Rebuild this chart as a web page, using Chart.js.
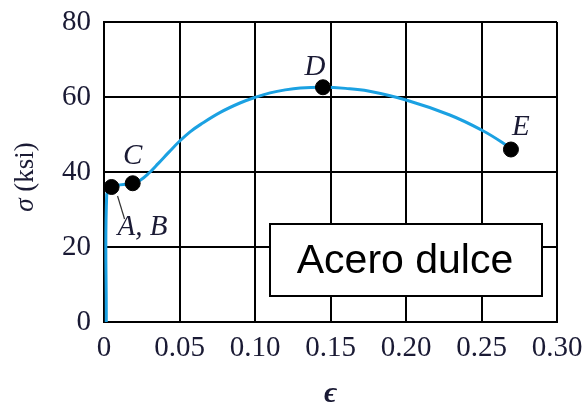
<!DOCTYPE html>
<html>
<head>
<meta charset="utf-8">
<script src="https://cdn.jsdelivr.net/npm/chart.js@4"></script>
<style>
  html, body { margin: 0; padding: 0; background: #fff; }
  #wrap { width: 588px; height: 403px; }
</style>
</head>
<body>
<div id="wrap"><canvas id="chart"></canvas></div>
<script>
// stress-strain curve of mild steel
const strainValues = [0.0015, 0.0018, 0.005, 0.019, 0.024, 0.030, 0.036, 0.043, 0.050, 0.057, 0.064, 0.077, 0.090, 0.100, 0.110, 0.120, 0.130, 0.145, 0.160, 0.175, 0.200, 0.229, 0.250, 0.264, 0.2695];
const stressValues = [0, 34, 36, 37, 37.8, 39.8, 42.3, 45.3, 48.2, 50.7, 52.7, 55.9, 58.4, 59.9, 61.1, 61.9, 62.4, 62.6, 62.3, 61.6, 59.2, 55.2, 51.2, 47.8, 46];

// marked points
const pointNames = ["A, B", "C", "D", "E"];
const pointStrain = [0.005, 0.019, 0.145, 0.2695];
const pointStress = [36, 37, 62.6, 46];

const xTicks = [0, 0.05, 0.10, 0.15, 0.20, 0.25, 0.30];
const yTicks = [0, 20, 40, 60, 80];
const boxText = "Acero dulce";

const inkColor = "#1a1a34";
const curveColor = "#1ba1e2";

const curveData = strainValues.map((x, i) => ({ x: x, y: stressValues[i] }));
const pointData = pointStrain.map((x, i) => ({ x: x, y: pointStress[i] }));

// label offsets in pixels from each marker
const labelOffsets = {
    "A, B": { dx: 6, dy: 40, align: "left" },
    "C": { dx: 0, dy: -27, align: "center" },
    "D": { dx: -8, dy: -20, align: "center" },
    "E": { dx: 10, dy: -22, align: "center" }
};

const overlayPlugin = {
    id: "overlay",
    afterDatasetsDraw(chart) {
        const ctx = chart.ctx;
        const xs = chart.scales.x, ys = chart.scales.y;
        ctx.save();

        // point labels
        ctx.fillStyle = inkColor;
        ctx.font = "italic 29px 'Liberation Serif', serif";
        ctx.textBaseline = "middle";
        pointNames.forEach((name, i) => {
            const px = xs.getPixelForValue(pointStrain[i]);
            const py = ys.getPixelForValue(pointStress[i]);
            const o = labelOffsets[name];
            ctx.textAlign = o.align;
            ctx.fillText(name, px + o.dx, py + o.dy);
            if (name === "A, B") {
                ctx.strokeStyle = "#333";
                ctx.lineWidth = 1.2;
                ctx.beginPath();
                ctx.moveTo(px + 6, py + 9);
                ctx.lineTo(px + 13, py + 32);
                ctx.stroke();
            }
        });

        // boxed note
        ctx.fillStyle = "#fff";
        ctx.fillRect(270, 224, 272, 72);
        ctx.strokeStyle = "#000";
        ctx.lineWidth = 2;
        ctx.strokeRect(270, 224, 272, 72);
        ctx.fillStyle = "#000";
        ctx.font = "41px 'Liberation Sans', Arial, sans-serif";
        ctx.textAlign = "center";
        ctx.textBaseline = "middle";
        ctx.fillText(boxText, 405, 262);

        // y axis title: italic sigma + upright (ksi)
        ctx.translate(26, chart.chartArea.top + (chart.chartArea.bottom - chart.chartArea.top) / 2 + 5);
        ctx.rotate(-Math.PI / 2);
        ctx.fillStyle = inkColor;
        ctx.textAlign = "left";
        ctx.font = "italic 27px 'Liberation Serif', serif";
        const sig = "σ ";
        const w1 = ctx.measureText(sig).width;
        ctx.font = "27px 'Liberation Serif', serif";
        const w2 = ctx.measureText("(ksi)").width;
        const start = -(w1 + w2) / 2;
        ctx.font = "italic 27px 'Liberation Serif', serif";
        ctx.fillText(sig, start, 0);
        ctx.font = "27px 'Liberation Serif', serif";
        ctx.fillText("(ksi)", start + w1, 0);
        ctx.restore();
    }
};

new Chart(document.getElementById("chart"), {
    type: "scatter",
    data: {
        datasets: [
            {
                type: "line",
                data: curveData,
                borderColor: curveColor,
                borderWidth: 3,
                pointRadius: 0,
                fill: false,
                tension: 0.4,
                order: 2
            },
            {
                data: pointData,
                backgroundColor: "#000",
                borderColor: "#000",
                pointRadius: 7.5,
                order: 1
            }
        ]
    },
    options: {
        responsive: true,
        maintainAspectRatio: false,
        animation: false,
        layout: { padding: { top: 22, right: 31, left: 0, bottom: 0 } },
        plugins: {
            legend: { display: false },
            tooltip: { enabled: false }
        },
        scales: {
            x: {
                type: "linear",
                min: 0,
                max: 0.3,
                afterBuildTicks(scale) { scale.ticks = xTicks.map(v => ({ value: v })); },
                afterFit(scale) {
                    scale.height = 81;
                    scale.paddingLeft = 0;
                    scale.paddingRight = 0;
                },
                grid: { color: "#000", lineWidth: 2, drawTicks: false },
                border: { color: "#000", width: 2 },
                ticks: {
                    color: inkColor,
                    padding: 9,
                    font: { family: "'Liberation Serif', serif", size: 29 },
                    callback: v => (v === 0 ? "0" : v.toFixed(2))
                },
                title: {
                    display: true,
                    text: "ϵ",
                    color: inkColor,
                    padding: { top: 0, bottom: -9 },
                    font: { family: "'Liberation Serif', serif", size: 30, style: "italic", weight: "bold" }
                }
            },
            y: {
                min: 0,
                max: 80,
                afterBuildTicks(scale) { scale.ticks = yTicks.map(v => ({ value: v })); },
                afterFit(scale) {
                    scale.width = 104;
                    scale.paddingTop = 0;
                    scale.paddingBottom = 0;
                },
                grid: { color: "#000", lineWidth: 2, drawTicks: false },
                border: { color: "#000", width: 2 },
                ticks: {
                    color: inkColor,
                    padding: 13,
                    font: { family: "'Liberation Serif', serif", size: 29 }
                }
            }
        }
    },
    plugins: [overlayPlugin]
});
</script>
</body>
</html>
